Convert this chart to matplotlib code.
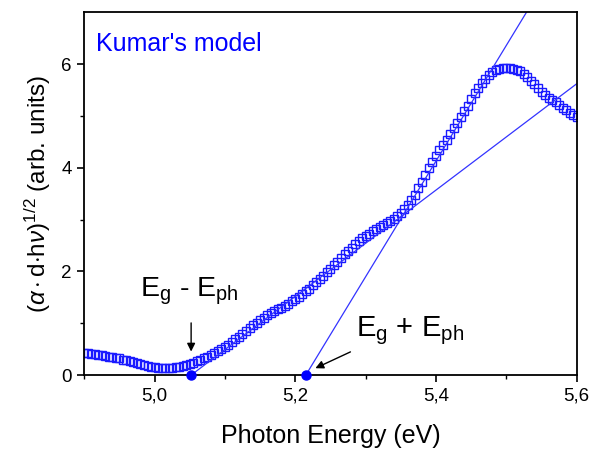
import numpy as np
import matplotlib.pyplot as plt

plt.rcParams['font.family'] = ['Liberation Sans', 'DejaVu Sans']
plt.rcParams['mathtext.fontset'] = 'custom'
plt.rcParams['mathtext.rm'] = 'Liberation Sans'
plt.rcParams['mathtext.it'] = 'Liberation Sans:italic'
plt.rcParams['mathtext.sf'] = 'Liberation Sans'

# measured curve, 4.9 .. 5.6 eV in 0.005 eV steps
energy = np.linspace(4.9, 5.6, 141)
signal = [
    0.43, 0.42, 0.41, 0.40, 0.39, 0.38, 0.36, 0.35, 0.34, 0.33,
    0.32, 0.30, 0.29, 0.27, 0.25, 0.23, 0.21, 0.19, 0.17, 0.16,
    0.15, 0.14, 0.13, 0.13, 0.13, 0.14, 0.15, 0.16, 0.18, 0.20,
    0.22, 0.24, 0.27, 0.30, 0.32, 0.35, 0.38, 0.42, 0.46, 0.50,
    0.54, 0.59, 0.64, 0.69, 0.74, 0.79, 0.85, 0.91, 0.96, 1.01,
    1.06, 1.11, 1.16, 1.20, 1.23, 1.27, 1.30, 1.34, 1.38, 1.42,
    1.46, 1.51, 1.56, 1.62, 1.67, 1.73, 1.79, 1.85, 1.91, 1.98,
    2.05, 2.12, 2.19, 2.26, 2.33, 2.39, 2.46, 2.52, 2.58, 2.64,
    2.69, 2.73, 2.78, 2.82, 2.86, 2.90, 2.94, 2.98, 3.02, 3.07,
    3.13, 3.20, 3.29, 3.38, 3.48, 3.60, 3.73, 3.86, 3.99, 4.11,
    4.23, 4.34, 4.44, 4.54, 4.65, 4.76, 4.87, 4.98, 5.09, 5.20,
    5.32, 5.44, 5.54, 5.63, 5.72, 5.79, 5.85, 5.88, 5.91, 5.92,
    5.92, 5.92, 5.91, 5.89, 5.86, 5.81, 5.75, 5.68, 5.61, 5.54,
    5.47, 5.41, 5.35, 5.30, 5.26, 5.21, 5.16, 5.11, 5.06, 5.01,
    4.97,
]

# linear fits (end points)
fit1_x = [5.052, 5.6]
fit1_y = [0.0, 5.62]
fit2_x = [5.215, 5.53]
fit2_y = [0.0, 7.03]

# intercepts on the energy axis
gap_x = [5.052, 5.215]
gap_y = [0.0, 0.0]

fig = plt.figure(figsize=(5.97, 4.53), dpi=100)
ax = fig.add_axes([0.141, 0.172, 0.825, 0.801])

ax.plot(energy, signal, ls='none', marker='s', ms=6, mfc='none',
        mec='#1a1aff', mew=1.0)
ax.plot(fit1_x, fit1_y, color='#3333ff', lw=0.9)
ax.plot(fit2_x, fit2_y, color='#3333ff', lw=0.9)
ax.plot(gap_x, gap_y, ls='none', marker='o', ms=6.5, color='#0000ff',
        clip_on=False, zorder=5)

ax.set_xlim(4.9, 5.6)
ax.set_ylim(0, 7)
ax.set_xticks([5.0, 5.2, 5.4, 5.6])
ax.set_xticklabels(['5,0', '5,2', '5,4', '5,6'])
ax.set_xticks(np.arange(4.9, 5.61, 0.1), minor=True)
ax.set_yticks([0, 2, 4, 6])
ax.set_yticks([1, 3, 5], minor=True)
ax.tick_params(which='major', direction='out', length=5, width=1.2,
               labelsize=13.5, pad=4)
ax.tick_params(which='minor', direction='out', length=3, width=1.0)
for s in ax.spines.values():
    s.set_linewidth(1.3)

ax.set_xlabel('Photon Energy (eV)', fontsize=18, labelpad=14)
ax.set_ylabel(r'($\alpha\cdot$d$\cdot$h$\nu$)$^{1/2}$ (arb. units)',
              fontsize=17.5, labelpad=6)

ax.text(0.025, 0.945, "Kumar's model", transform=ax.transAxes,
        color='#0000ff', fontsize=18, va='top', ha='left')

ax.annotate('', xy=(5.052, 0.4), xytext=(5.052, 1.06),
            arrowprops=dict(arrowstyle='-|>', color='black', lw=1,
                            mutation_scale=12))
ax.text(5.05, 1.62, r'E$_\mathregular{g}$ - E$_\mathregular{ph}$',
        fontsize=20.5, ha='center', va='center')

ax.annotate('', xy=(5.225, 0.11), xytext=(5.282, 0.47),
            arrowprops=dict(arrowstyle='-|>', color='black', lw=1,
                            mutation_scale=12))
ax.text(5.287, 0.85, r'E$_\mathregular{g}$ + E$_\mathregular{ph}$',
        fontsize=21, ha='left', va='center')

plt.savefig('out.png', dpi=100)
